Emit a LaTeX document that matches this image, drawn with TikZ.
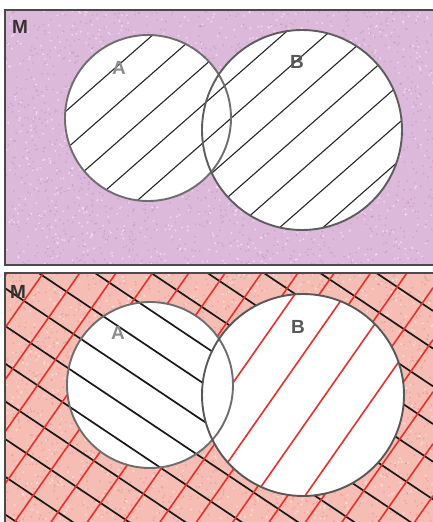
\documentclass[tikz,border=0pt]{standalone}
\usepackage{fontspec}
\setmainfont{Liberation Sans}
\definecolor{toppurple}{HTML}{DCB8DA}
\definecolor{topdark}{HTML}{B985B8}
\definecolor{botpink}{HTML}{F5BDB4}
\definecolor{botdark}{HTML}{E57F74}
\definecolor{redline}{HTML}{E8302A}
\definecolor{bordergray}{HTML}{4A4A4A}
\definecolor{circgray}{HTML}{6E6E6E}
\begin{document}
\begin{tikzpicture}[x=1pt,y=-1pt,
  lbl/.style={font=\fontsize{19}{20}\selectfont\bfseries, inner sep=0pt},
  border/.style={draw=bordergray, line width=2.6pt},
  circline/.style={draw=circgray, line width=1.9pt},
  hatchtop/.style={draw=black!85, line width=1.1pt, line cap=round},
  hatchblack/.style={draw=black!90, line width=1.7pt},
  hatchred/.style={draw=redline, line width=1.6pt}]
\useasboundingbox (0,0) rectangle (433,522);
\fill[white] (0,0) rectangle (433,522);
\pgfmathsetseed{4242}
% ---------- top panel ----------
\fill[toppurple] (5,10) rectangle (433,265);
\foreach \i in {1,...,1600}
  \fill[topdark, opacity=0.45] ({5+428*rnd},{10+255*rnd}) circle[radius=0.9pt];
\foreach \i in {1,...,900}
  \fill[white, opacity=0.45] ({5+428*rnd},{10+255*rnd}) circle[radius=1.1pt];
\fill[white] (148,118) circle[radius=83pt] (302,130) circle[radius=100pt];
\begin{scope}
  \clip (148,118) circle[radius=83pt] (302,130) circle[radius=100pt];
  \foreach \c in {169,207,...,550}
    \draw[hatchtop] (0,\c) -- (433,{\c-380});
\end{scope}
\draw[circline] (148,118) circle[radius=83pt];
\draw[circline, draw=circgray!85!black] (302,130) circle[radius=100pt];
\draw[border] (433,10) -- (5,10) -- (5,265) -- (433,265);
\node[lbl, text=black!80] (M1) at (20,27) {M};
\node[lbl, text=black!45] (A1) at (119,68) {A};
\node[lbl, text=black!65] (B1) at (297,62) {B};
% ---------- bottom panel ----------
\fill[botpink] (5,273) rectangle (433,522);
\foreach \i in {1,...,1600}
  \fill[botdark, opacity=0.45] ({5+428*rnd},{273+249*rnd}) circle[radius=0.9pt];
\foreach \i in {1,...,900}
  \fill[white, opacity=0.45] ({5+428*rnd},{273+249*rnd}) circle[radius=1.1pt];
\fill[white] (150,385) circle[radius=83pt] (303,395) circle[radius=101pt];
% black lines: outside B
\begin{scope}[even odd rule]
  \clip (5,273) rectangle (433,522) (303,395) circle[radius=101pt];
  \foreach \k in {-9,...,6}
    \draw[hatchblack] (0,{322.5+37.7*\k}) -- (433,{322.5+37.7*\k+290});
\end{scope}
% red lines: outside A and B
\begin{scope}[even odd rule]
  \clip (5,273) rectangle (433,522) (150,385) circle[radius=83pt];
  \clip (5,273) rectangle (433,522) (303,395) circle[radius=101pt];
  \foreach \k in {-1,...,16}
    \draw[hatchred] (0,{335+52*\k}) -- (433,{335+52*\k-619.2});
\end{scope}
% red lines: B minus A
\begin{scope}[even odd rule]
  \clip (303,395) circle[radius=101pt];
  \clip (5,273) rectangle (433,522) (150,385) circle[radius=83pt];
  \foreach \c in {716,788,860,932}
    \draw[hatchred] (0,\c) -- (433,{\c-619.2});
\end{scope}
\draw[circline] (150,385) circle[radius=83pt];
\draw[circline, draw=circgray!80!black] (303,395) circle[radius=101pt];
\draw[border] (433,273) -- (5,273) -- (5,522);
\node[lbl, text=black!80] (M2) at (18,292) {M};
\node[lbl, text=black!45] (A2) at (118,333) {A};
\node[lbl, text=black!65] (B2) at (298,327) {B};
\end{tikzpicture}
\end{document}
